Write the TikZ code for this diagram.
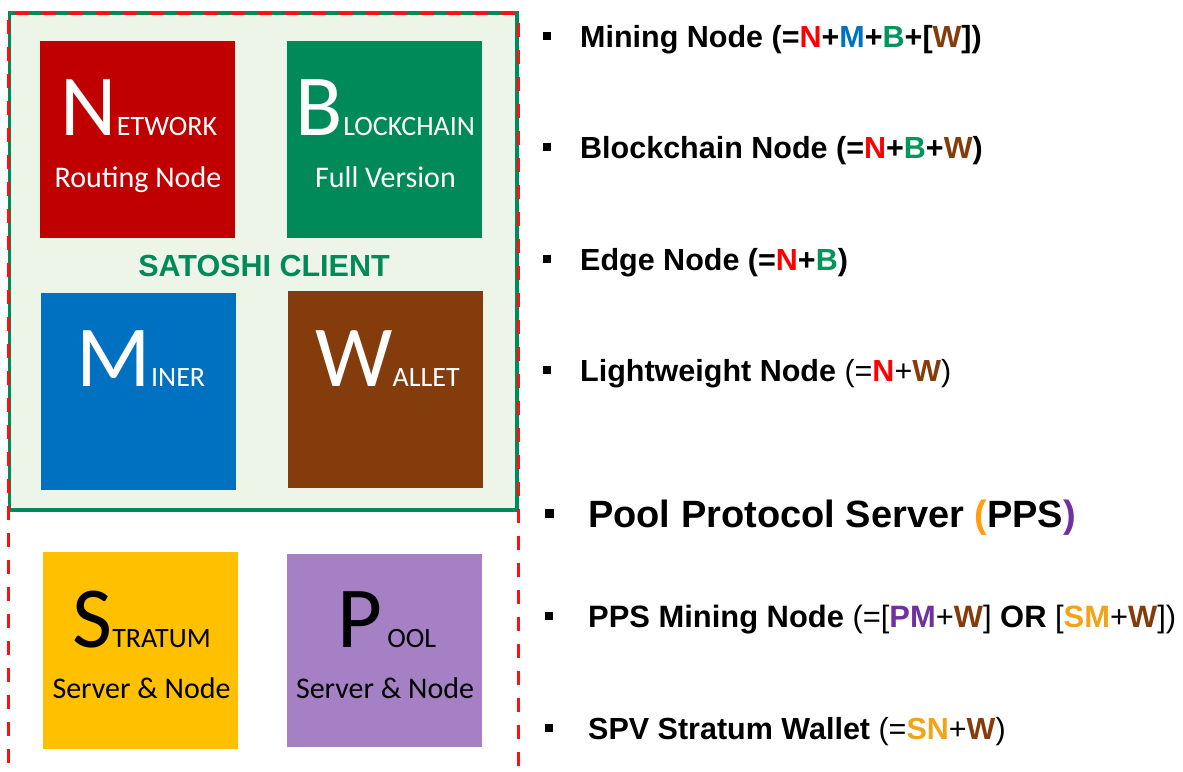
\documentclass[tikz,border=0pt]{standalone}
\usepackage{fontspec}
\setmainfont{Liberation Sans}
\newfontfamily\boxfont{Carlito}

% palette
\definecolor{netred}{HTML}{C00000}
\definecolor{chaingreen}{HTML}{008A5A}
\definecolor{minerblue}{HTML}{0070C0}
\definecolor{walletbrown}{HTML}{843C0C}
\definecolor{stratumgold}{HTML}{FFC000}
\definecolor{poolviolet}{HTML}{A680C4}
\definecolor{clientfill}{HTML}{EDF5E9}
\definecolor{txtred}{HTML}{FF0000}
\definecolor{txtgreen}{HTML}{00965A}
\definecolor{txtpurple}{HTML}{7030A0}
\definecolor{txtorange}{HTML}{F2A419}
\definecolor{parenorange}{HTML}{FF9E10}
\definecolor{dashred}{HTML}{FF1010}

\tikzset{
  tile/.style={rectangle, inner sep=0pt, minimum width=195pt, minimum height=197pt},
  tiletitle/.style={anchor=base, inner sep=0pt, font=\boxfont},
  tilesub/.style={anchor=base, inner sep=0pt, font=\boxfont\fontsize{30}{30}\selectfont},
  bulletsq/.style={rectangle, fill=black, inner sep=0pt, minimum size=8pt},
  itemtext/.style={anchor=base west, inner sep=0pt, font=\bfseries\fontsize{30.5}{30.5}\selectfont},
  clientframe/.style={draw=chaingreen, line width=3.5pt, fill=clientfill},
  scopeframe/.style={draw=dashred, line width=3pt, dash pattern=on 14pt off 13pt},
}

% large initial followed by small capitals
\newcommand\initial[2]{{\fontsize{87}{87}\selectfont #1}{\fontsize{28}{28}\selectfont #2}}
\newcommand\rg[1]{{\mdseries #1}}

\begin{document}
\begin{tikzpicture}[x=1pt, y=-1pt]
\useasboundingbox (0,0) rectangle (1183,771);

% Satoshi client frame and the dashed outer scope
\coordinate (cfA) at (9.5,13);
\coordinate (cfB) at (517,510);
\draw[clientframe] (cfA) rectangle (cfB);
\coordinate (sdA) at (8.5,790);
\coordinate (sdB) at (8.5,13);
\coordinate (sdC) at (518,13);
\coordinate (sdD) at (518,790);
\draw[scopeframe] (sdA) -- (sdB) -- (sdC) -- (sdD);

% component tiles
\node[tile, fill=netred] (net) at (137.5,139.5) {};
\node[tile, fill=chaingreen] (chain) at (384.5,139.5) {};
\node[tile, fill=minerblue] (miner) at (138.5,391) {};
\node[tile, fill=walletbrown] (wallet) at (385.5,389) {};
\node[tile, fill=stratumgold] (stratum) at (140.5,650.5) {};
\node[tile, fill=poolviolet, minimum height=193pt] (pool) at (384.5,650.5) {};

% tile captions
\node[tiletitle, text=white] (netT) at (139,135) {\initial{N}{ETWORK}};
\node[tilesub, text=white] (netS) at (138,187) {Routing Node};
\node[tiletitle, text=white] (chainT) at (385.5,135) {\initial{B}{LOCKCHAIN}};
\node[tilesub, text=white] (chainS) at (385.5,187) {Full Version};
\node[tiletitle, text=white] (minerT) at (141,386) {\initial{M}{INER}};
\node[tiletitle, text=white] (walletT) at (387.5,386) {\initial{W}{ALLET}};
\node[tiletitle, text=black] (stratumT) at (141.5,647) {\initial{S}{TRATUM}};
\node[tilesub, text=black] (stratumS) at (141.5,698) {Server \& Node};
\node[tiletitle, text=black] (poolT) at (387,647) {\initial{P}{\,OOL}};
\node[tilesub, text=black] (poolS) at (385,698) {Server \& Node};

\node[anchor=base, inner sep=0pt, text=chaingreen, font=\bfseries\fontsize{30.5}{30.5}\selectfont] (client) at (264,276) {SATOSHI CLIENT};

% node-type list
\node[bulletsq] (b1) at (547,36) {};
\node[bulletsq] (b2) at (547,147) {};
\node[bulletsq] (b3) at (547,259) {};
\node[bulletsq] (b4) at (547,370) {};
\node[bulletsq, minimum size=9pt] (b5) at (549,513) {};
\node[bulletsq] (b6) at (549,616) {};
\node[bulletsq] (b7) at (549,728) {};

\node[itemtext] (t1) at (580,47) {Mining Node (=\textcolor{txtred}{N}+\textcolor{minerblue}{M}+\textcolor{txtgreen}{B}+[\textcolor{walletbrown}{W}])};
\node[itemtext] (t2) at (580,158) {Blockchain Node (=\textcolor{txtred}{N}+\textcolor{txtgreen}{B}+\textcolor{walletbrown}{W})};
\node[itemtext] (t3) at (580,270) {Edge Node (=\textcolor{txtred}{N}+\textcolor{txtgreen}{B})};
\node[itemtext] (t4) at (580,381) {Lightweight Node \rg{(=}\textcolor{txtred}{N}\rg{+}\textcolor{walletbrown}{W}\rg{)}};
\node[itemtext, font=\bfseries\fontsize{38}{38}\selectfont] (t5) at (588,527) {Pool Protocol Server \textcolor{parenorange}{(}PPS\textcolor{txtpurple}{)}};
\node[itemtext, font=\bfseries\fontsize{30.9}{30.9}\selectfont] (t6) at (588,627) {PPS Mining Node \rg{(=[}\textcolor{txtpurple}{PM}\rg{+}\textcolor{walletbrown}{W}\rg{]} OR \rg{[}\textcolor{txtorange}{SM}\rg{+}\textcolor{walletbrown}{W}\rg{])}};
\node[itemtext] (t7) at (588,739) {SPV Stratum Wallet \rg{(=}\textcolor{txtorange}{SN}\rg{+}\textcolor{walletbrown}{W}\rg{)}};
\end{tikzpicture}
\end{document}
